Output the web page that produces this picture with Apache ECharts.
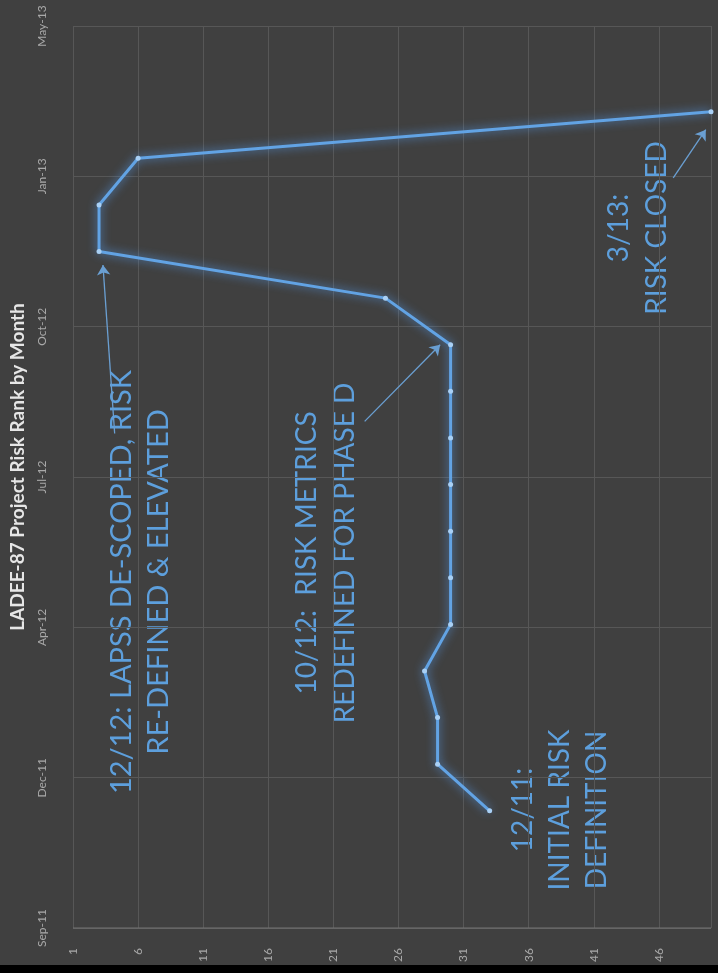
<!DOCTYPE html>
<html><head><meta charset="utf-8">
<script src="https://cdn.jsdelivr.net/npm/echarts@6/dist/echarts.min.js"></script>
<style>html,body{margin:0;padding:0;background:#000;overflow:hidden;} #c{width:718px;height:965px;}</style>
</head><body><div id="c"></div>
<script>
// ---- data ----
const chartTitle = 'LADEE-87 Project Risk Rank by Month';
const reviewDates = ['2011-12-01','2012-01-01','2012-02-01','2012-03-03','2012-04-03','2012-05-04',
  '2012-06-04','2012-07-05','2012-08-05','2012-09-05','2012-10-06','2012-11-06','2012-12-07',
  '2013-01-07','2013-02-07','2013-03-10'];
const riskRank = [33,29,29,28,30,30,30,30,30,30,30,25,3,3,6,50];
const timeAxisRange = ['2011-09-14','2013-05-06'];   // Sep-11 ... May-13
const timeTickStepDays = 100;
const rankRange = [1, 50];
const rankTickStep = 5;
const monthNames = ['Jan','Feb','Mar','Apr','May','Jun','Jul','Aug','Sep','Oct','Nov','Dec'];
const noteTexts = [
  '12/12: LAPSS DE-SCOPED, RISK\nRE-DEFINED & ELEVATED',
  '10/12:  RISK METRICS\nREDEFINED FOR PHASE D',
  '12/11:\nINITIAL RISK\nDEFINITION',
  '3/13:\nRISK CLOSED'
];
// arrow end points: [rank, date]
const noteArrows = [
  [[4.2,'2012-08-08'],[3.3,'2012-11-28']],
  [[23.4,'2012-08-16'],[29.2,'2012-10-06']],
  [[47.1,'2013-01-25'],[49.6,'2013-02-26']]
];

// ---- helpers ----
function serial(s){ const p=s.split('-').map(Number); return Date.UTC(p[0],p[1]-1,p[2])/86400000 + 25569; }
function fmtSerial(v){ const d=new Date((v-25569)*86400000); return monthNames[d.getUTCMonth()]+'-'+String(d.getUTCFullYear()%100).padStart(2,'0'); }

const seriesData = reviewDates.map((d,i)=>[riskRank[i], serial(d)]);
const noteColor = '#5d9fdc';
const gridColor = '#575757';
const labelColor = '#a9a9a9';
const font = 'Lato, "Open Sans", sans-serif';

const chart = echarts.init(document.getElementById('c'));
chart.setOption({
  backgroundColor: '#404040',
  animation: false,
  grid: {left: 73, right: 7, top: 26, bottom: 34, containLabel: false},
  xAxis: {
    type: 'value', min: rankRange[0], max: rankRange[1], interval: rankTickStep,
    axisLine: {show: false}, axisTick: {show: false},
    axisLabel: {rotate: 90, color: labelColor, fontSize: 12, fontFamily: font, margin: 20, showMaxLabel: false},
    splitLine: {show: true, lineStyle: {color: gridColor, width: 1}}
  },
  yAxis: {
    type: 'value', min: serial(timeAxisRange[0]), max: serial(timeAxisRange[1]), interval: timeTickStepDays,
    axisLine: {show: false}, axisTick: {show: false},
    axisLabel: {rotate: 90, color: labelColor, fontSize: 12, fontFamily: font, margin: 25, formatter: v => fmtSerial(v)},
    splitLine: {show: true, lineStyle: {color: gridColor, width: 1}}
  },
  series: [{
    type: 'line',
    data: seriesData,
    symbol: 'circle', symbolSize: 5,
    itemStyle: {color: '#a9d0f5'},
    lineStyle: {color: '#62a3e4', width: 3, shadowColor: 'rgba(85,155,235,0.95)', shadowBlur: 10},
    z: 5,
    markLine: {
      silent: true, symbol: ['none','arrow'], symbolSize: 10,
      label: {show: false},
      lineStyle: {color: '#6a9fd2', width: 1.3, type: 'solid'},
      data: noteArrows.map(a => [{coord: [a[0][0], serial(a[0][1])]}, {coord: [a[1][0], serial(a[1][1])]}])
    }
  }, {
    type: 'line',
    data: [[rankRange[0], serial(timeAxisRange[0])],[rankRange[1], serial(timeAxisRange[0])]],
    symbol: 'none', silent: true,
    lineStyle: {color: '#727272', width: 1.3}, z: 2
  }],
  graphic: [
    {type:'text', x: 18, y: 467, rotation: Math.PI/2,
     style:{text: chartTitle, fill:'#e6e6e6', font: 'bold 19px ' + font, align:'center', verticalAlign:'middle'}},
    {type:'text', x: 140, y: 582, rotation: Math.PI/2,
     style:{text: noteTexts[0], fill: noteColor, font: '29px ' + font, lineHeight: 37, align:'center', verticalAlign:'middle'}},
    {type:'text', x: 326, y: 553, rotation: Math.PI/2,
     style:{text: noteTexts[1], fill: noteColor, font: '28px ' + font, lineHeight: 38, align:'center', verticalAlign:'middle'}},
    {type:'text', x: 560, y: 810, rotation: Math.PI/2,
     style:{text: noteTexts[2], fill: noteColor, font: '28px ' + font, lineHeight: 37, align:'center', verticalAlign:'middle'}},
    {type:'text', x: 638, y: 228, rotation: Math.PI/2,
     style:{text: noteTexts[3], fill: noteColor, font: '28px ' + font, lineHeight: 38, align:'center', verticalAlign:'middle'}}
  ]
});
</script></body></html>
